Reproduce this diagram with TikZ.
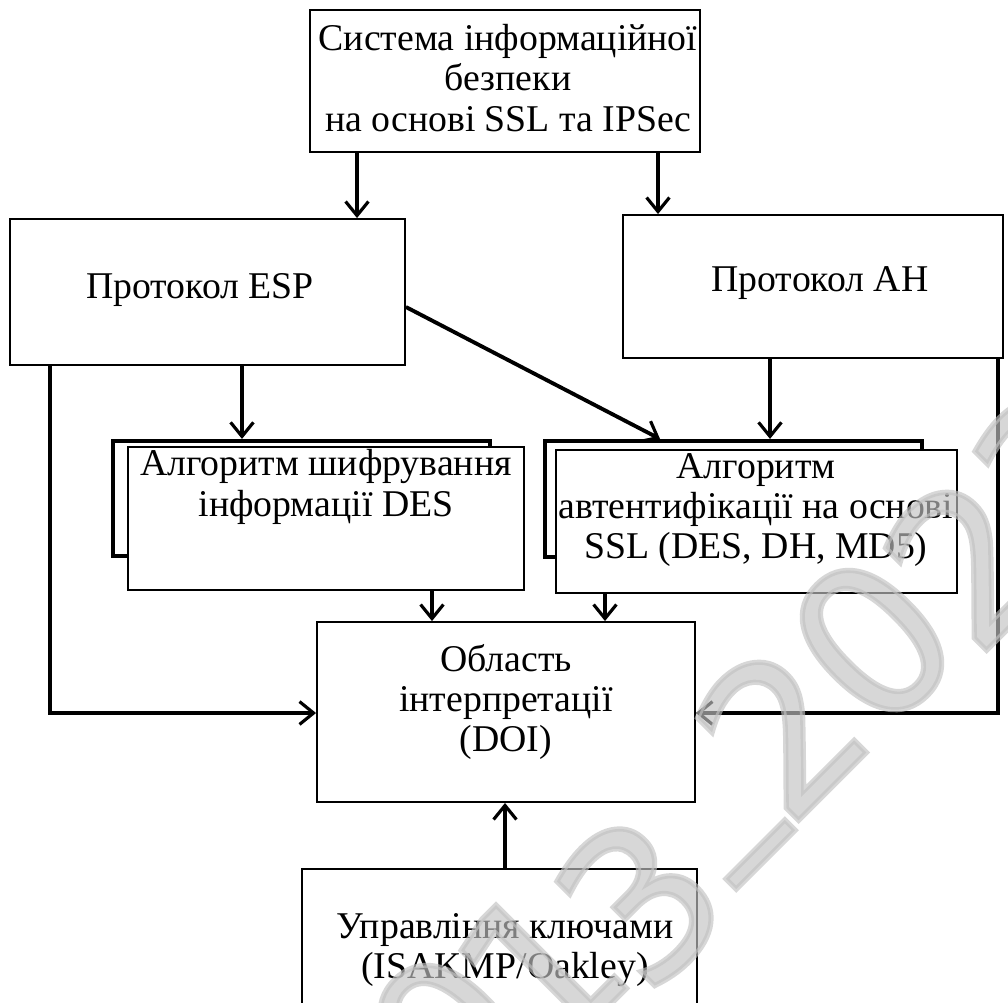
\documentclass[tikz,border=0pt]{standalone}
\usepackage{fontspec}
\setmainfont{Liberation Serif}
\newfontfamily\markfont[FakeBold=2.5]{DejaVu Sans}
\usetikzlibrary{arrows.meta}

\definecolor{markgray}{gray}{0.76}

\tikzset{
  box/.style={draw, line width=1.1pt, fill=white, inner sep=0pt, rectangle},
  backbox/.style={draw, line width=2.4pt, inner sep=0pt, rectangle},
  txt/.style={align=center, inner sep=0pt, font=\fontsize{21.5}{23}\selectfont},
  conn/.style={line width=2.2pt, -{Straight Barb[length=8pt,width=13pt,line width=1.8pt]}},
  glyph/.style={text=markgray, text opacity=0.65, inner sep=0pt, rotate=45,
    font=\markfont\fontsize{118}{118}\selectfont},
}

\begin{document}
\begin{tikzpicture}[x=0.02cm, y=-0.02cm]
  \useasboundingbox (0,0) rectangle (1008,1002);
  \clip (0,0) rectangle (1008,1002);

  % boxes
  \node[box, minimum width=7.8cm, minimum height=2.84cm] (top) at (505,81) {};
  \node[txt] (toptxt) at (508,78) {Система інформаційної\\безпеки\\на основі SSL та IPSec};

  \node[box, minimum width=7.9cm, minimum height=2.92cm] (esp) at (207.5,292) {};
  \node[txt] (esptxt) at (200,290) {Протокол ESP};

  \node[box, minimum width=7.6cm, minimum height=2.86cm] (ah) at (813,286.5) {};
  \node[txt] (ahtxt) at (820,283) {Протокол AH};

  \node[backbox, minimum width=7.54cm, minimum height=2.3cm] (desback) at (301.5,498.5) {};
  \node[box, minimum width=7.92cm, minimum height=2.86cm] (des) at (326,518.5) {};
  \node[txt] (destxt) at (326,487) {Алгоритм шифрування\\інформації DES};

  \node[backbox, minimum width=7.54cm, minimum height=2.32cm] (authback) at (733.5,499) {};
  \node[box, minimum width=8.02cm, minimum height=2.86cm] (auth) at (756.5,521.5) {};
  \node[txt] (authtxt) at (756,510) {Алгоритм\\автентифікації на основі\\SSL (DES, DH, MD5)};

  \node[box, minimum width=7.56cm, minimum height=3.6cm] (doi) at (506,712) {};
  \node[txt] (doitxt) at (506,702) {Область\\інтерпретації\\(DOI)};

  \node[box, minimum width=7.9cm, minimum height=3.42cm] (key) at (499.5,954.5) {};
  \node[txt] (keytxt) at (505,950) {Управління ключами\\(ISAKMP/Oakley)};

  % connectors
  \draw[conn] (top.south -| 357,0) -- (esp.north -| 357,0);
  \draw[conn] (top.south -| 658,0) -- (ah.north -| 658,0);
  \draw[conn] (esp.south -| 242,0) -- (desback.north -| 242,0);
  \draw[conn] (esp.south -| 50,0) |- (doi.west |- 0,713);
  \draw[conn] (esp.east |- 0,307) -- (authback.north -| 660,0);
  \draw[conn] (ah.south -| 770,0) -- (authback.north -| 770,0);
  \draw[conn] (ah.south -| 998,0) |- (doi.east |- 0,713);
  \draw[conn] (des.south -| 432,0) -- (doi.north -| 432,0);
  \draw[conn] (auth.south -| 605,0) -- (doi.north -| 605,0);
  \draw[conn] (key.north -| 505,0) -- (doi.south -| 505,0);

  % light year mark laid over the chart
  \node[glyph] (m1) at (360,1100) {2};
  \node[glyph] (m2) at (450,1035) {0};
  \node[glyph] (m3) at (540,968) {1};
  \node[glyph] (m4) at (640,900) {3};
  \node[glyph] (m5) at (778,872) {–};
  \node[glyph] (m6) at (780,730) {2};
  \node[glyph] (m7) at (872,640) {0};
  \node[glyph] (m8) at (968,560) {2};
  \node[glyph] (m9) at (1058,470) {3};
\end{tikzpicture}
\end{document}
